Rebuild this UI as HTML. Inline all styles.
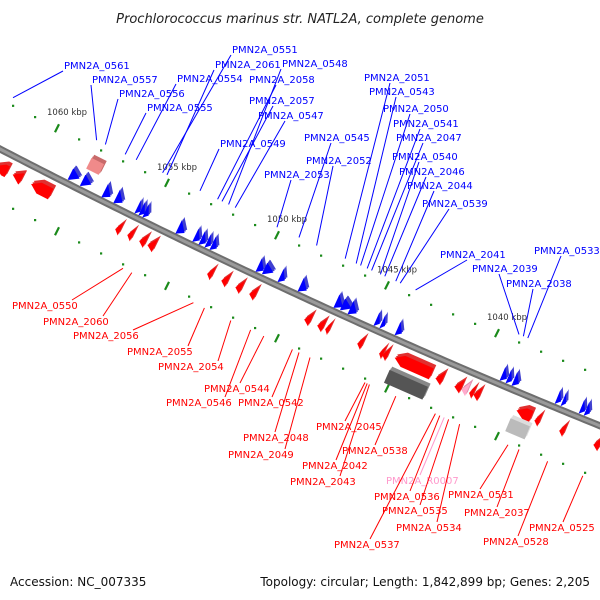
<!DOCTYPE html>
<html><head><meta charset="utf-8"><style>
html,body{margin:0;padding:0;background:#fff;}
svg{display:block;font-family:"DejaVu Sans","Liberation Sans",sans-serif;}
</style></head><body>
<svg id="chart" width="600" height="600" viewBox="0 0 600 600" xmlns="http://www.w3.org/2000/svg">
<text x="300" y="23" text-anchor="middle" font-size="13" font-style="italic" fill="#222">Prochlorococcus marinus str. NATL2A, complete genome</text>
<g id="ticks"></g>
<path id="backbone" fill="none" stroke="#6e6e6e" stroke-width="7"/>
<path id="backbone2" fill="none" stroke="#9a9a9a" stroke-width="3"/>
<g id="genes"></g>
<g id="labels"></g>
<text x="10" y="586" font-size="12" fill="#111">Accession: NC_007335</text>
<text x="590" y="586" text-anchor="end" font-size="12" fill="#111">Topology: circular; Length: 1,842,899 bp; Genes: 2,205</text>
</svg>
<script>
// ---- data (kbp) ----
const tickRange = [1035, 1063];
const majorTicks = [1060, 1055, 1050, 1045, 1040];
const blueGenes = [[1059.41,1058.95],[1058.86,1058.41],[1057.86,1057.5],[1057.32,1056.95],[1056.36,1056.14],[1056.18,1055.95],[1056.0,1055.77],[1054.5,1054.14],[1053.73,1053.45],[1053.45,1053.18],[1053.18,1052.95],[1052.95,1052.68],[1050.86,1050.54],[1050.59,1050.14],[1049.86,1049.59],[1048.95,1048.59],[1047.32,1046.95],[1047.04,1046.59],[1046.68,1046.32],[1045.5,1045.27],[1045.23,1045.04],[1044.54,1044.27],[1039.77,1039.5],[1039.5,1039.27],[1039.23,1038.95],[1037.27,1037.04],[1037.0,1036.82],[1036.18,1035.95],[1035.95,1035.73]];
const redGenes = [[1062.82,1062.23],[1062.04,1061.59],[1061.23,1060.23],[1057.32,1057.09],[1056.77,1056.54],[1056.23,1055.95],[1055.86,1055.54],[1053.14,1052.91],[1052.5,1052.23],[1051.86,1051.59],[1051.23,1050.95],[1048.73,1048.45],[1048.14,1047.86],[1047.77,1047.59],[1046.32,1046.09],[1045.32,1045.14],[1045.18,1044.95],[1044.73,1042.91],[1042.77,1042.45],[1041.91,1041.59],[1041.23,1041.04],[1041.04,1040.77],[1039.14,1038.41],[1038.27,1038.04],[1037.14,1036.91],[1035.59,1035.32]];
const pinkGenes = [[1041.59,1041.32]];
const pseudoGenes = [[1058.59,1057.95]];
const grayDark = [[1045.09,1043.18]];
const grayLight = [[1039.54,1038.59]];
const blueLabelNames = ["PMN2A_0561","PMN2A_0557","PMN2A_0556","PMN2A_0555","PMN2A_0554","PMN2A_0551","PMN2A_2061","PMN2A_0548","PMN2A_2058","PMN2A_2057","PMN2A_0547","PMN2A_0549","PMN2A_2053","PMN2A_0545","PMN2A_2052","PMN2A_2051","PMN2A_0543","PMN2A_2050","PMN2A_0541","PMN2A_2047","PMN2A_0540","PMN2A_2046","PMN2A_2044","PMN2A_0539","PMN2A_2041","PMN2A_2039","PMN2A_2038","PMN2A_0533"];
const blueLabelKbp = [1062.0,1058.2,1057.8,1056.9,1056.4,1055.2,1055.0,1052.2,1052.7,1052.5,1051.9,1053.5,1050.0,1049.0,1048.2,1046.9,1046.4,1046.2,1045.9,1045.7,1045.3,1045.1,1044.6,1044.4,1043.7,1039.0,1038.8,1038.6];
const redLabelNames = ["PMN2A_0550","PMN2A_2060","PMN2A_2056","PMN2A_2055","PMN2A_2054","PMN2A_0544","PMN2A_0546","PMN2A_0542","PMN2A_2048","PMN2A_2049","PMN2A_2045","PMN2A_2042","PMN2A_2043","PMN2A_0538","PMN2A_R0007","PMN2A_0536","PMN2A_0535","PMN2A_0534","PMN2A_0537","PMN2A_0531","PMN2A_2037","PMN2A_0528","PMN2A_0525"];
const redLabelKbp = [1057.0,1056.6,1053.8,1053.3,1052.1,1050.6,1051.2,1049.3,1049.0,1048.5,1046.0,1045.9,1045.8,1044.6,1042.4,1042.6,1042.2,1041.7,1042.8,1039.5,1039.0,1037.7,1036.1];
// ---- layout ----
const blueLabelPos = [[64,69,0],[92,83,0],[119,97,0],[147,111,0],[177,82,0],[232,53,0],[215,68,0],[282,67,0],[249,83,28],[249,104,25],[258,119,28],[220,147,0],[264,178,28],[304,141,28],[306,164,28],[364,81,27],[369,95,28],[383,112,28],[393,127,28],[396,141,28],[392,160,28],[399,175,28],[407,189,28],[422,207,28],[440,258,28],[472,272,28],[506,287,28],[534,254,28]];
const redLabelPos = [[12,309,60],[43,325,60],[73,339,60],[127,355,61],[158,370,60],[204,392,36],[166,406,59],[238,406,34],[243,441,32],[228,458,57],[316,430,29],[302,469,34],[290,485,50],[342,454,33],[386,484,34],[374,500,36],[382,514,38],[396,531,41],[334,548,36],[448,498,32],[464,516,33],[483,545,35],[529,531,34]];
const NS="http://www.w3.org/2000/svg";
function X(k){return 57+(1060-k)*22;}
function B(x){return 149+0.518*x-0.0000944*x*x;}
function ang(x){return Math.atan(0.518-2*0.0000944*x);}
function mk(tag,attrs,parent){const e=document.createElementNS(NS,tag);for(const a in attrs)e.setAttribute(a,attrs[a]);parent.appendChild(e);return e;}
let d="";for(let x=-10;x<=610;x+=5){d+=(x===-10?"M":"L")+x+","+B(x).toFixed(2);}
document.getElementById('backbone').setAttribute('d',d);
document.getElementById('backbone2').setAttribute('d',d);
const tg=document.getElementById('ticks');
for(let k=tickRange[0];k<=tickRange[1];k++){
  const x=X(k);
  [-50,53].forEach(function(off){
    const y=B(x)+off;
    if(majorTicks.indexOf(k)>=0){
      const t=mk('line',{x1:x-2,y1:y+4,x2:x+2,y2:y-4,stroke:'#1a8a1a','stroke-width':2.2},tg);
      
      
    }else{
      const t=mk('rect',{x:x-1,y:y-1,width:2.2,height:2.2,fill:'#1a8a1a'},tg);
      
      
    }
  });
  if(majorTicks.indexOf(k)>=0){
    const t=mk('text',{x:x-10,y:B(x)-50-13,'font-size':8.5,fill:'#333'},tg);
    t.textContent=k+" kbp";
    
    
  }
}
const gg=document.getElementById('genes');
function gene(s,e,off,dir,col,dark,hh,name,box){
  let x1=Math.min(X(s),X(e)),x2=Math.max(X(s),X(e));
  const L=x2-x1, cx=(x1+x2)/2, cy=B(cx)+off, a=ang(cx)*180/Math.PI;
  const h=Math.min(9,L*0.9);
  let pts;
  if(box){pts=[[-L/2,-hh],[L/2,-hh],[L/2,hh],[-L/2,hh]];}
  else if(dir>0){pts=[[-L/2,-hh],[L/2-h,-hh],[L/2,0],[L/2-h,hh],[-L/2,hh]];}
  else{pts=[[L/2,-hh],[-L/2+h,-hh],[-L/2,0],[-L/2+h,hh],[L/2,hh]];}
  if(L<9){pts=dir>0?[[-L/2,-hh-2],[L/2,hh*0.4],[-L/2,hh+1]]:[[L/2,-hh-2],[-L/2,hh*0.4],[L/2,hh+1]];}
  const str=pts.map(p=>p[0].toFixed(1)+","+p[1].toFixed(1)).join(" ");
  const g=mk('g',{transform:'translate('+cx.toFixed(1)+','+cy.toFixed(1)+') rotate('+a.toFixed(1)+')'},gg);
  
  
  mk('polygon',{points:str,fill:dark,transform:'translate(1,-4)'},g);
  mk('polygon',{points:str,fill:dark,transform:'translate(0.5,-2)'},g);
  mk('polygon',{points:str,fill:col},g);
}
blueGenes.forEach(v=>gene(v[0],v[1],-11,1,'#0000ff','#4040d0',6,'forward-gene'));
redGenes.forEach(v=>gene(v[0],v[1],19,-1,'#ff0000','#e03030',6,'reverse-gene'));
pinkGenes.forEach(v=>gene(v[0],v[1],19,-1,'#ffaacc','#e090b0',6,'rna-gene'));
pseudoGenes.forEach(v=>gene(v[0],v[1],-31,1,'#f08a8a','#c86a6a',6,'pseudo-gene',true));
grayDark.forEach(v=>gene(v[0],v[1],41,-1,'#555555','#888888',7,'gray-feature',true));
grayLight.forEach(v=>gene(v[0],v[1],37,-1,'#bbbbbb','#dddddd',7,'gray-feature-light',true));
const lg=document.getElementById('labels');
blueLabelNames.forEach(function(n,i){
  const p=blueLabelPos[i], ex=X(blueLabelKbp[i]), ey=B(ex)-58;
  const l=mk('line',{x1:p[0]-1+p[2],y1:p[1]+2,x2:ex,y2:ey,stroke:'#0000ff','stroke-width':1},lg);
  
  
  const t=mk('text',{x:p[0],y:p[1],'font-size':10,fill:'#0000ff'},lg);
  t.textContent=n;
  
  
});
redLabelNames.forEach(function(n,i){
  const p=redLabelPos[i], ex=X(redLabelKbp[i]), ey=B(ex)+57;
  const col=n==="PMN2A_R0007"?'#ff99cc':'#ff0000';
  const l=mk('line',{x1:p[0]+p[2],y1:p[1]-9,x2:ex,y2:ey,stroke:col,'stroke-width':1},lg);
  
  
  const t=mk('text',{x:p[0],y:p[1],'font-size':10,fill:col},lg);
  t.textContent=n;
  
  
});
</script>
</body></html>
